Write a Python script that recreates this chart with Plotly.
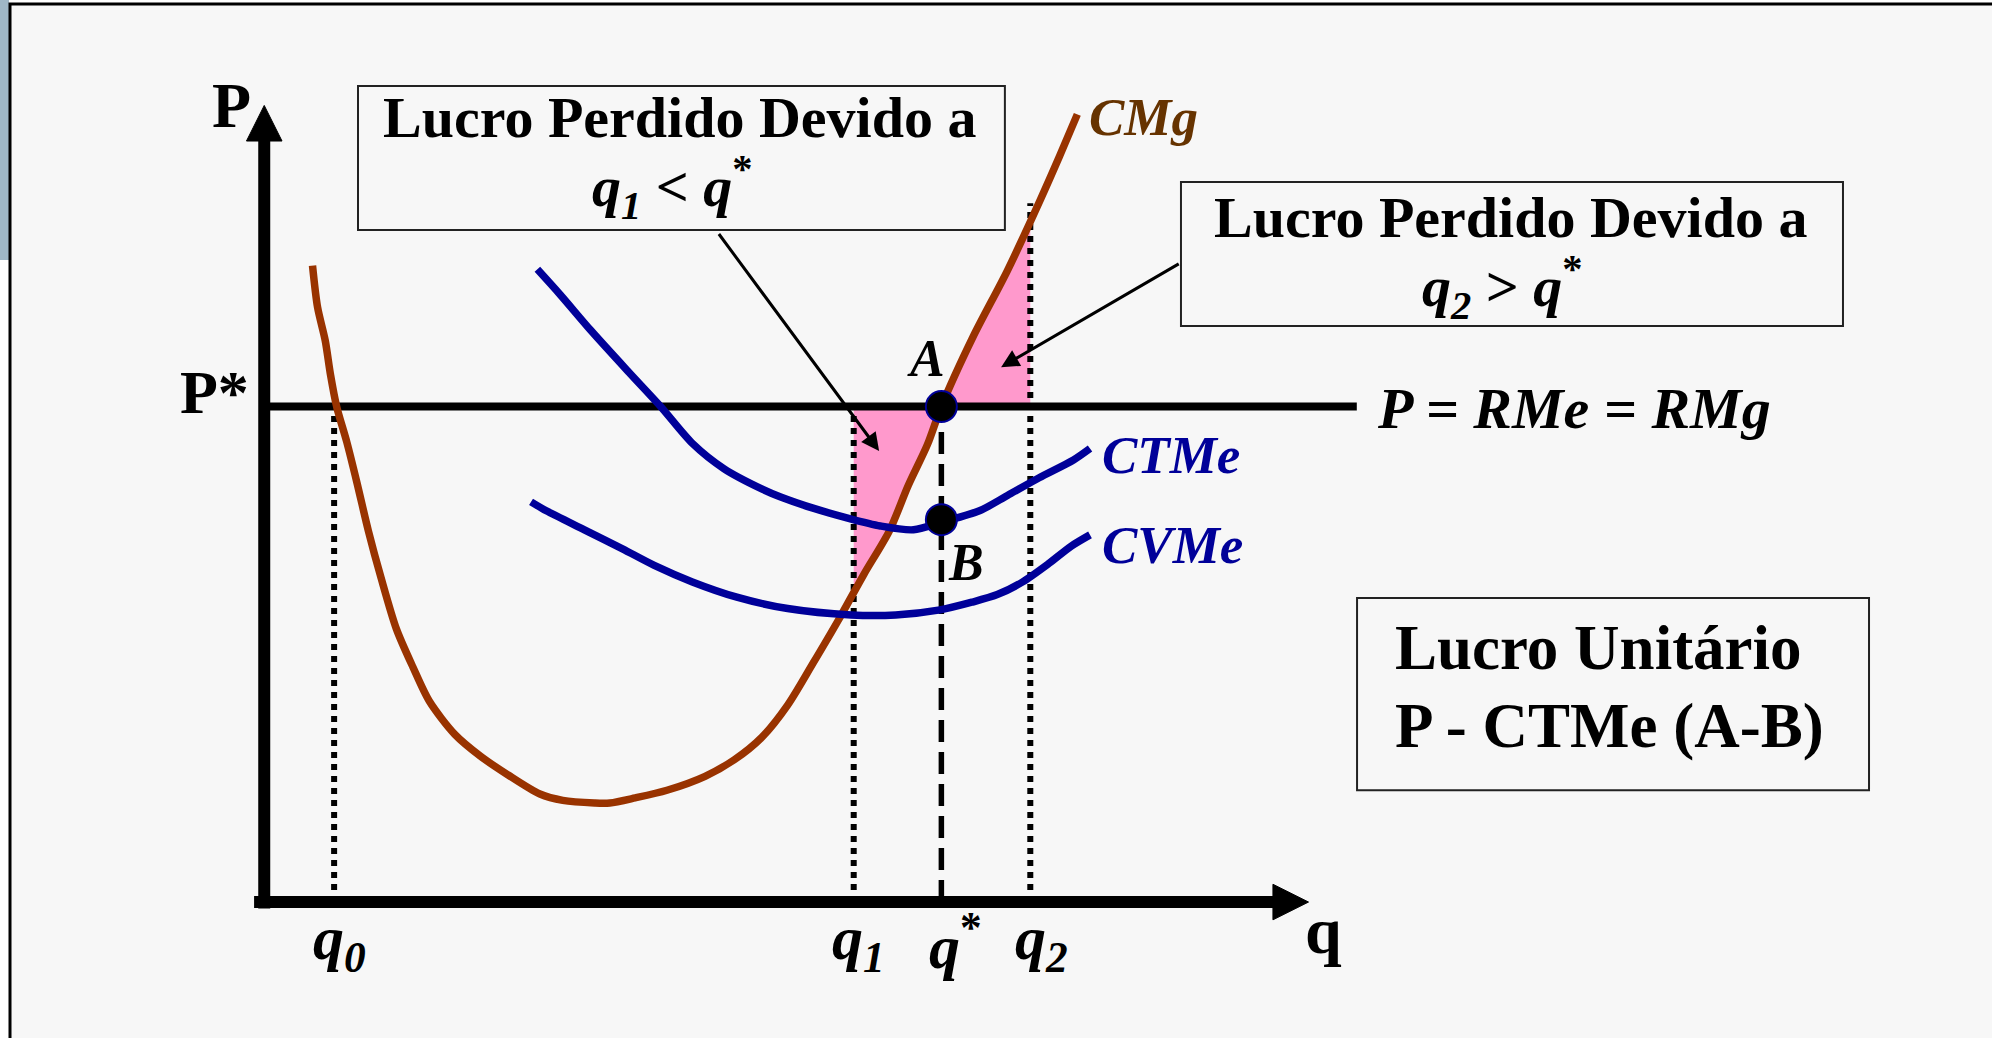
import numpy as np
import plotly.graph_objects as go

# ---------------- data (chart units: q to the right, P upward) ----------------
Q0, Q1, QSTAR, Q2 = 55, 464, 533, 603
PSTAR = 390
Q_AXIS_END = 822
P_AXIS_END = 627

cmg_q = [38, 42, 48, 52, 57, 65, 73, 82, 92, 104, 117, 130, 150, 170, 192, 217, 235,
         260, 272, 292, 317, 347, 370, 392, 412, 432, 452, 472, 492, 507, 522, 533,
         558, 585, 611, 626, 640]
cmg_p = [501, 468, 442, 416, 390, 362, 330, 292, 255, 215, 185, 158, 132, 115, 100, 85, 80,
         78, 78, 82, 88, 99, 112, 130, 155, 188, 222, 258, 292, 328, 360, 390,
         445, 497, 553, 587, 620]

ctme_q = [215, 233, 257, 287, 312, 337, 362, 392, 406, 432, 460, 485, 511, 533, 563, 585,
          610, 637, 650]
ctme_p = [498, 478, 450, 417, 390, 361, 341, 325, 319, 310, 302, 296, 293, 299, 308, 320,
          334, 348, 357]

cvme_q = [210, 222, 252, 282, 307, 337, 372, 412, 462, 497, 532, 557, 577, 597, 617, 635,
          650]
cvme_p = [315, 308, 293, 278, 265, 252, 240, 231, 226, 226, 230, 236, 242, 252, 266, 280,
          289]

B_P = 301  # CTMe at q*

q_tick_labels = ["<b><i>q</i></b><b><i><sub>0</sub></i></b>",
                 "<b><i>q</i></b><b><i><sub>1</sub></i></b>",
                 "<b><i>q</i></b><b><sup>*</sup></b>",
                 "<b><i>q</i></b><b><i><sub>2</sub></i></b>"]
q_tick_values = [Q0 + 4.5, Q1 + 3.6, QSTAR + 11, Q2 + 9]

FONT = "Liberation Serif"
BROWN = "#993300"
BLUE = "#000099"
PINK = "#ff99cc"

fig = go.Figure()

# ---------------- shaded lost-profit regions ----------------
cmq = np.array(cmg_q, dtype=float)
cmp_ = np.array(cmg_p, dtype=float)
p_at_q1 = float(np.interp(Q1, cmq, cmp_))
p_at_q2 = float(np.interp(Q2, cmq, cmp_))

mask1 = (cmq > Q1) & (cmq < QSTAR)
reg1_q = [Q1, QSTAR] + list(cmq[mask1][::-1]) + [Q1]
reg1_p = [PSTAR, PSTAR] + list(cmp_[mask1][::-1]) + [p_at_q1]
fig.add_trace(go.Scatter(x=reg1_q, y=reg1_p, fill="toself", fillcolor=PINK,
                         line=dict(width=0), mode="lines", hoverinfo="skip"))

mask2 = (cmq > QSTAR) & (cmq < Q2)
reg2_q = [QSTAR] + list(cmq[mask2]) + [Q2, Q2]
reg2_p = [PSTAR] + list(cmp_[mask2]) + [p_at_q2, PSTAR]
fig.add_trace(go.Scatter(x=reg2_q, y=reg2_p, fill="toself", fillcolor=PINK,
                         line=dict(width=0), mode="lines", hoverinfo="skip"))

# ---------------- guide lines ----------------
for qv, top in [(Q0, PSTAR), (Q1, PSTAR + 5), (Q2, 550)]:
    fig.add_trace(go.Scatter(x=[qv, qv], y=[0, top], mode="lines",
                             line=dict(color="black", width=6, dash="dot"),
                             hoverinfo="skip"))
fig.add_trace(go.Scatter(x=[QSTAR, QSTAR], y=[0, PSTAR], mode="lines",
                         line=dict(color="black", width=5.5, dash="22px,10px"),
                         hoverinfo="skip"))

# price line
fig.add_trace(go.Scatter(x=[0, 860], y=[PSTAR, PSTAR], mode="lines",
                         line=dict(color="black", width=8), hoverinfo="skip"))

# ---------------- cost curves ----------------
fig.add_trace(go.Scatter(x=cmg_q, y=cmg_p, mode="lines", line_shape="spline",
                         line=dict(color=BROWN, width=7.5, smoothing=0.8), hoverinfo="skip"))
fig.add_trace(go.Scatter(x=ctme_q, y=ctme_p, mode="lines", line_shape="spline",
                         line=dict(color=BLUE, width=7.5, smoothing=0.8), hoverinfo="skip"))
fig.add_trace(go.Scatter(x=cvme_q, y=cvme_p, mode="lines", line_shape="spline",
                         line=dict(color=BLUE, width=7.5, smoothing=0.8), hoverinfo="skip"))

# points A and B
fig.add_trace(go.Scatter(x=[QSTAR, QSTAR], y=[PSTAR, B_P], mode="markers",
                         marker=dict(size=31, color="black", line=dict(color=BLUE, width=2)),
                         hoverinfo="skip"))

# ---------------- shapes: frame, axes, boxes ----------------
shapes = []
shapes.append(dict(type="rect", xref="paper", yref="paper", x0=0, x1=9 / 1992,
                   y0=1 - 260 / 1038, y1=1, fillcolor="#9fb7c6", line=dict(width=0),
                   layer="below"))
shapes.append(dict(type="rect", xref="paper", yref="paper", x0=10 / 1992, x1=1.05,
                   y0=-0.05, y1=1 - 4 / 1038, fillcolor="#f7f7f7",
                   line=dict(color="black", width=3), layer="below"))
# axes
shapes.append(dict(type="line", xref="x", yref="y", x0=-8, x1=Q_AXIS_END - 26, y0=0, y1=0,
                   line=dict(color="black", width=12), layer="below"))
shapes.append(dict(type="line", xref="x", yref="y", x0=0, x1=0, y0=-5, y1=P_AXIS_END - 26,
                   line=dict(color="black", width=12), layer="below"))
shapes.append(dict(type="path", xref="x", yref="y",
                   path=f"M {Q_AXIS_END - 28},-14 L {Q_AXIS_END},0 L {Q_AXIS_END - 28},14 Z",
                   fillcolor="black", line=dict(color="black", width=1), layer="below"))
shapes.append(dict(type="path", xref="x", yref="y",
                   path=f"M -14,{P_AXIS_END - 28} L 0,{P_AXIS_END} L 14,{P_AXIS_END - 28} Z",
                   fillcolor="black", line=dict(color="black", width=1), layer="below"))
# text boxes
for x0, x1, y0, y1 in [(73.8, 583, 529, 642.3), (721.6, 1242.7, 453.4, 566.7),
                       (860.2, 1263.2, 88.1, 239.3)]:
    shapes.append(dict(type="rect", xref="x", yref="y", x0=x0, x1=x1, y0=y0, y1=y1,
                       fillcolor="#f7f7f7", line=dict(color="#222222", width=2),
                       layer="below"))

# ---------------- annotations ----------------
ann = []


def txt(x, y, text, size, color="black", xanchor="center"):
    ann.append(dict(x=x, y=y, xref="x", yref="y", text=text, showarrow=False,
                    xanchor=xanchor, yanchor="middle",
                    font=dict(family=FONT, size=size, color=color)))


txt(-25.8, 627, "<b>P</b>", 64)
txt(-38.8, 401.5, "<b>P*</b>", 62)
txt(834, -22, "<b>q</b>", 66)
for qv, lab in zip(q_tick_values, q_tick_labels):
    txt(qv, -31.5, lab, 62)
txt(521, 428, "<b><i>A</i></b>", 52)
txt(552, 267, "<b><i>B</i></b>", 52)
txt(692, 618, "<b><i>CMg</i></b>", 53, color="#663300")
txt(713.8, 352, "<b><i>CTMe</i></b>", 53, color=BLUE)
txt(715, 281, "<b><i>CVMe</i></b>", 53, color=BLUE)
txt(1031, 388.5, "<b><i>P = RMe = RMg</i></b>", 58)
txt(327, 617.9, "<b>Lucro Perdido Devido a</b>", 58)
txt(321, 562.8, "<b><i>q</i></b><b><i><sub>1</sub></i></b><b> &lt; </b><b><i>q</i></b><b><sup>*</sup></b>", 58)
txt(980.6, 539.2, "<b>Lucro Perdido Devido a</b>", 58)
txt(974.5, 484.1, "<b><i>q</i></b><b><i><sub>2</sub></i></b><b> &gt; </b><b><i>q</i></b><b><sup>*</sup></b>", 58)
txt(888.5, 200, "<b>Lucro Unitário</b>", 63, xanchor="left")
txt(888.5, 138.5, "<b>P - CTMe (A-B)</b>", 63, xanchor="left")

# arrows pointing at the shaded regions
for (hx, hy), (tx, ty) in [((484, 355), (357, 527)), ((580, 421), (721, 503))]:
    ann.append(dict(x=hx, y=hy, ax=tx, ay=ty, xref="x", yref="y", axref="x", ayref="y",
                    text="", showarrow=True, arrowhead=2, arrowsize=1.2, arrowwidth=3,
                    arrowcolor="black", standoff=0, startstandoff=0))

fig.update_layout(
    width=1992, height=1038,
    margin=dict(l=0, r=0, t=0, b=0, pad=0),
    paper_bgcolor="white", plot_bgcolor="white",
    showlegend=False,
    xaxis=dict(range=[-208, 1360], visible=False, fixedrange=True),
    yaxis=dict(range=[-107, 710], visible=False, fixedrange=True),
    shapes=shapes,
    annotations=ann,
)

fig.write_html("out.html", config={"displayModeBar": False},
               post_script="document.body.style.margin='0';document.body.style.overflow='hidden';")
